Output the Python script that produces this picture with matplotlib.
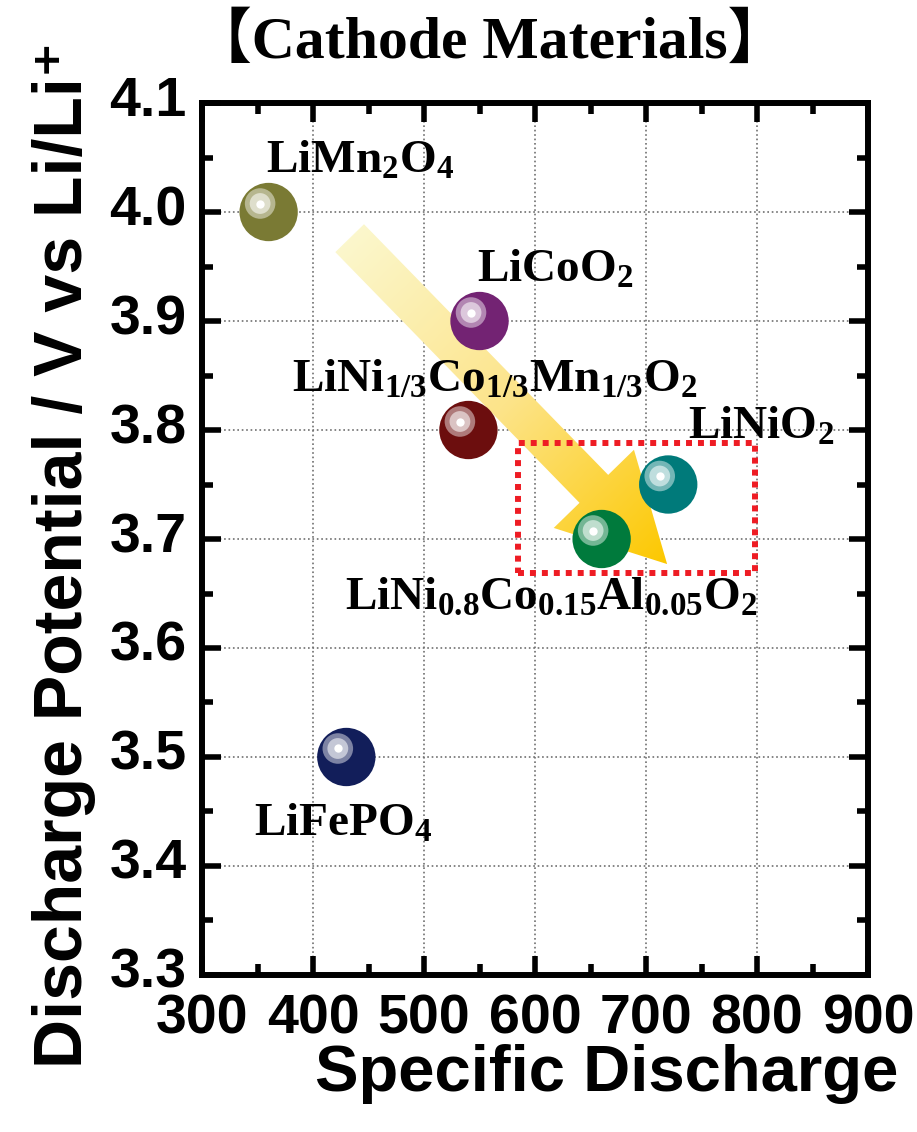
import numpy as np
import matplotlib
matplotlib.use("Agg")
import matplotlib.pyplot as plt
from matplotlib.patches import Polygon, Rectangle
from matplotlib.colors import LinearSegmentedColormap, to_rgb
from matplotlib.ticker import MultipleLocator
from matplotlib.transforms import ScaledTranslation

# Data
materials = [r"LiMn$_2$O$_4$", r"LiCoO$_2$", r"LiNi$_{1/3}$Co$_{1/3}$Mn$_{1/3}$O$_2$",
             r"LiNiO$_2$", r"LiNi$_{0.8}$Co$_{0.15}$Al$_{0.05}$O$_2$", r"LiFePO$_4$"]
capacity = [360, 550, 540, 720, 660, 430]
potential = [4.0, 3.9, 3.8, 3.75, 3.7, 3.5]
ball_colors = ["#7a7a34", "#732373", "#6c0e0e", "#007a7a", "#007a3c", "#121e5a"]

xtick_vals = [300, 400, 500, 600, 700, 800, 900]
ytick_vals = [3.3, 3.4, 3.5, 3.6, 3.7, 3.8, 3.9, 4.0, 4.1]
ytick_labels = ["3.3", "3.4", "3.5", "3.6", "3.7", "3.8", "3.9", "4.0", "4.1"]

# label anchor (left, baseline) in data units
label_x = [358, 548, 381, 738, 429, 347]
label_y = [4.036, 3.936, 3.835, 3.792, 3.635, 3.428]

# trend arrow and highlight box
arrow_tail = (433, 3.976)
arrow_tip = (719, 3.677)
box_x, box_y, box_w, box_h = 585, 3.669, 213, 0.119

plt.rcParams["font.family"] = ["Liberation Sans", "DejaVu Sans"]
plt.rcParams["font.weight"] = "bold"
plt.rcParams["axes.labelweight"] = "bold"
plt.rcParams["mathtext.fontset"] = "custom"
plt.rcParams["mathtext.rm"] = "Liberation Serif:bold"
plt.rcParams["mathtext.it"] = "Liberation Serif:bold"
plt.rcParams["mathtext.bf"] = "Liberation Serif:bold"

fig = plt.figure(figsize=(9.17, 11.32), dpi=100)
ax = fig.add_axes([0.2203, 0.1387, 0.7263, 0.7703])
ax.set_xlim(300, 900)
ax.set_ylim(3.3, 4.1)

# gradient arrow, built in pixel space so it keeps its shape
p0 = ax.transData.transform(arrow_tail)
p1 = ax.transData.transform(arrow_tip)
d = p1 - p0
L = np.hypot(*d)
u = d / L
n = np.array([-u[1], u[0]])
shaft_w, head_w, head_l = 40, 112, 105
base = p1 - u * head_l
pts = np.array([p0 + n * shaft_w / 2, base + n * shaft_w / 2, base + n * head_w / 2, p1,
                base - n * head_w / 2, base - n * shaft_w / 2, p0 - n * shaft_w / 2])
inv = ax.transData.inverted()
clip = Polygon(inv.transform(pts), closed=True, fc="none", ec="none", transform=ax.transData)
ax.add_patch(clip)

xmin, ymin = pts.min(axis=0)
xmax, ymax = pts.max(axis=0)
X, Y = np.meshgrid(np.linspace(xmin, xmax, 300), np.linspace(ymin, ymax, 300))
t = np.clip(((X - p0[0]) * u[0] + (Y - p0[1]) * u[1]) / L, 0, 1)
cmap = LinearSegmentedColormap.from_list("arr", ["#fbf7cc", "#fde48a", "#fcc800"])
(dx0, dy0), (dx1, dy1) = inv.transform([(xmin, ymin), (xmax, ymax)])
im = ax.imshow(cmap(t), extent=[dx0, dx1, dy0, dy1], origin="lower", aspect="auto",
               zorder=1, interpolation="bilinear")
im.set_clip_path(clip)
ax.set_xlim(300, 900)
ax.set_ylim(3.3, 4.1)

ax.add_patch(Rectangle((box_x, box_y), box_w, box_h, fill=False, ec="#ee1c24",
                       lw=4.3, ls=(0, (1, 1)), zorder=2))

# balls with a glossy highlight
ax.scatter(capacity, potential, s=42 ** 2, c=ball_colors, linewidths=0, zorder=3)
shift = ax.transData + ScaledTranslation(-0.085, 0.085, fig.dpi_scale_trans)
ring1 = [tuple(np.array(to_rgb(c)) * 0.55 + 0.45) for c in ball_colors]
ring2 = [tuple(np.array(to_rgb(c)) * 0.25 + 0.75) for c in ball_colors]
ax.scatter(capacity, potential, s=22 ** 2, c=ring1, linewidths=0, zorder=4, transform=shift)
ax.scatter(capacity, potential, s=15 ** 2, c=ring2, linewidths=0, zorder=4, transform=shift)
ax.scatter(capacity, potential, s=6 ** 2, c="white", linewidths=0, zorder=4, transform=shift)

for name, x, y in zip(materials, label_x, label_y):
    ax.text(x, y, name, fontsize=34, family="Liberation Serif", weight="bold",
            ha="left", va="baseline", zorder=5)

# axes styling
ax.set_xticks(xtick_vals)
ax.set_yticks(ytick_vals)
ax.set_yticklabels(ytick_labels)
ax.xaxis.set_minor_locator(MultipleLocator(50))
ax.yaxis.set_minor_locator(MultipleLocator(0.05))
ax.tick_params(which="both", direction="in", top=True, right=True, width=4, labelsize=40)
ax.tick_params(which="major", length=14)
ax.tick_params(which="minor", length=8)
ax.tick_params(axis="y", pad=11)
ax.tick_params(axis="x", pad=13)
# y tick labels sit a little above their ticks in the reference
lift = ScaledTranslation(0, 0.07, fig.dpi_scale_trans)
for lab in ax.get_yticklabels():
    lab.set_transform(lab.get_transform() + lift)
for sp in ax.spines.values():
    sp.set_linewidth(4.3)
ax.set_axisbelow(True)
ax.grid(True, which="major", ls=":", color="#707070", lw=1.2)

ax.set_xlabel("Specific Discharge", fontsize=47, fontweight="bold", ha="right", va="baseline")
ax.xaxis.set_label_coords(1.045, -0.1335)
ax.set_ylabel("Discharge Potential / V vs Li/Li\u207a", fontsize=49, fontweight="bold",
              ha="left", va="baseline", rotation_mode="anchor")
ax.yaxis.set_label_coords(-0.180, -0.107)

fig.text(490 / 917, 1 - 58 / 1132, "【Cathode Materials】", fontsize=43,
         family=["Liberation Serif", "Noto Sans CJK JP"], weight="bold",
         ha="center", va="baseline")

fig.savefig("out.png", dpi=100)
